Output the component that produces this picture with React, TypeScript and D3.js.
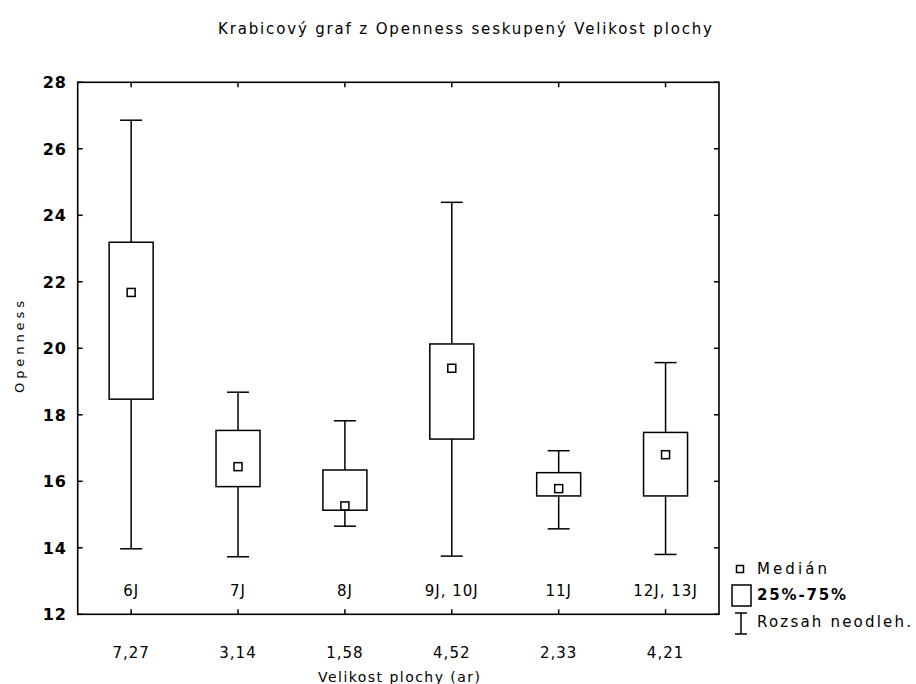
import React from "react";
import * as d3 from "d3";

const categories = ["7,27", "3,14", "1,58", "4,52", "2,33", "4,21"];
const groupLabels = ["6J", "7J", "8J", "9J, 10J", "11J", "12J, 13J"];
const medians = [21.68, 16.44, 15.26, 19.4, 15.78, 16.8];
const q1 = [18.47, 15.84, 15.13, 17.27, 15.56, 15.56];
const q3 = [23.19, 17.53, 16.34, 20.13, 16.26, 17.47];
const mins = [13.97, 13.73, 14.65, 13.75, 14.57, 13.8];
const maxs = [26.86, 18.68, 17.82, 24.39, 16.92, 19.57];
const yTicks = [12, 14, 16, 18, 20, 22, 24, 26, 28];

const title = "Krabicový graf z Openness seskupený Velikost plochy";
const xTitle = "Velikost plochy (ar)";
const yTitle = "Openness";
const legendLabels = ["Medián", "25%-75%", "Rozsah neodleh."];

export default function App() {
  const W = 916, H = 684;
  const left = 77.7, right = 719, top = 82.3, bottom = 614.3;
  const x = d3.scaleBand<string>().domain(categories).range([left, right]).padding(0);
  const y = d3.scaleLinear().domain([12, 28]).range([bottom, top]);
  const bw = x.bandwidth();
  const boxW = 44, capW = 22, med = 8, tick = 5;
  const font = "'DejaVu Sans', Arial, sans-serif";

  return (
    <svg width={W} height={H} style={{ position: "absolute", left: 0, top: 0, background: "#fff" }} fontFamily={font}>
      <rect x={0} y={0} width={W} height={H} fill="#fff" />
      <text x={465} y={34} textAnchor="middle" fontSize={15} textLength={494} lengthAdjust="spacing">{title}</text>

      {/* frame */}
      <rect x={left} y={top} width={right - left} height={bottom - top} fill="none" stroke="#000" strokeWidth={1.6} />

      {/* y ticks */}
      {yTicks.map((t) => (
        <g key={t}>
          <line x1={left} x2={left + tick} y1={y(t)} y2={y(t)} stroke="#000" strokeWidth={1.5} />
          <line x1={right - tick} x2={right} y1={y(t)} y2={y(t)} stroke="#000" strokeWidth={1.5} />
          <text x={67} y={y(t) + 6} textAnchor="end" fontSize={16} fontWeight="bold" letterSpacing={1}>{t}</text>
        </g>
      ))}

      {/* x ticks */}
      {categories.map((c) => {
        const cx = (x(c) as number) + bw / 2;
        return (
          <g key={c}>
            <line x1={cx} x2={cx} y1={top} y2={top + tick} stroke="#000" strokeWidth={1.5} />
            <line x1={cx} x2={cx} y1={bottom - tick} y2={bottom} stroke="#000" strokeWidth={1.5} />
            <text x={cx} y={658} textAnchor="middle" fontSize={15} letterSpacing={1}>{c}</text>
          </g>
        );
      })}

      {/* boxes */}
      {categories.map((c, i) => {
        const cx = (x(c) as number) + bw / 2;
        return (
          <g key={"b" + c} stroke="#000" strokeWidth={1.5} fill="none">
            <line x1={cx} x2={cx} y1={y(maxs[i])} y2={y(q3[i])} />
            <line x1={cx} x2={cx} y1={y(q1[i])} y2={y(mins[i])} />
            <line x1={cx - capW / 2} x2={cx + capW / 2} y1={y(maxs[i])} y2={y(maxs[i])} />
            <line x1={cx - capW / 2} x2={cx + capW / 2} y1={y(mins[i])} y2={y(mins[i])} />
            <rect x={cx - boxW / 2} y={y(q3[i])} width={boxW} height={y(q1[i]) - y(q3[i])} fill="#fff" />
            <rect x={cx - med / 2} y={y(medians[i]) - med / 2} width={med} height={med} fill="#fff" />
          </g>
        );
      })}

      {/* group labels */}
      {categories.map((c, i) => {
        const cx = (x(c) as number) + bw / 2;
        return (
          <text key={"g" + c} x={cx} y={596} textAnchor="middle" fontSize={15} letterSpacing={1}>{groupLabels[i]}</text>
        );
      })}

      {/* axis titles */}
      <text x={399} y={682} textAnchor="middle" fontSize={14} textLength={162} lengthAdjust="spacing">{xTitle}</text>
      <text transform={`translate(24,347) rotate(-90)`} textAnchor="middle" fontSize={13} textLength={92} lengthAdjust="spacing">{yTitle}</text>

      {/* legend */}
      <g stroke="#000" strokeWidth={1.5} fill="#fff">
        <rect x={736.5} y={565.5} width={7} height={7} />
        <rect x={732} y={585} width={19} height={21} />
        <line x1={741} x2={741} y1={613} y2={634} />
        <line x1={735} x2={747} y1={613} y2={613} />
        <line x1={735} x2={747} y1={634} y2={634} />
      </g>
      <text x={757} y={574} fontSize={15} textLength={70} lengthAdjust="spacing">{legendLabels[0]}</text>
      <text x={757} y={600} fontSize={15} fontWeight="bold" textLength={89} lengthAdjust="spacing">{legendLabels[1]}</text>
      <text x={757} y={627} fontSize={15} textLength={154} lengthAdjust="spacing">{legendLabels[2]}</text>
    </svg>
  );
}
